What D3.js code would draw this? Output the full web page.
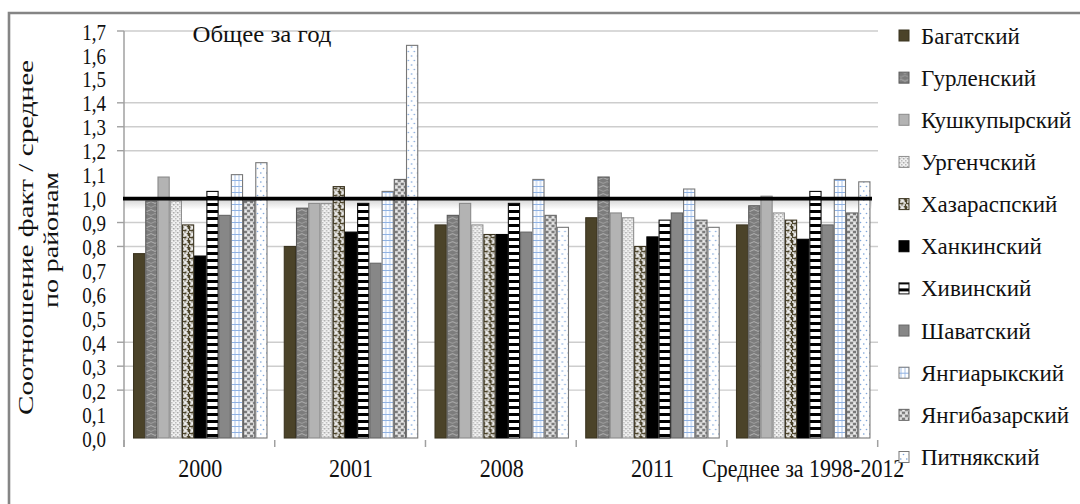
<!DOCTYPE html>
<html>
<head>
<meta charset="utf-8">
<script src="https://cdn.jsdelivr.net/npm/d3@7"></script>
<style>
  html, body { margin: 0; padding: 0; background: #fff; }
  svg { display: block; }
  svg text { font-family: "Liberation Serif", "Times New Roman", serif !important; fill: #111; }
</style>
</head>
<body>
<svg id="chart" width="1080" height="504"></svg>
<script>
// Categories (x groups) and districts (series)
const categories = ["2000", "2001", "2008", "2011", "Среднее за 1998-2012"];
const districts = [
  "Багатский", "Гурленский", "Кушкупырский", "Ургенчский", "Хазараспский",
  "Ханкинский", "Хивинский", "Шаватский", "Янгиарыкский", "Янгибазарский", "Питнякский"
];

// Ratio actual / district average, one array per category, in district order
const values2000 = [0.77, 0.99, 1.09, 0.99, 0.89, 0.76, 1.03, 0.93, 1.10, 0.99, 1.15];
const values2001 = [0.80, 0.96, 0.98, 0.98, 1.05, 0.86, 0.98, 0.73, 1.03, 1.08, 1.64];
const values2008 = [0.89, 0.93, 0.98, 0.89, 0.85, 0.85, 0.98, 0.86, 1.08, 0.93, 0.88];
const values2011 = [0.92, 1.09, 0.94, 0.92, 0.80, 0.84, 0.91, 0.94, 1.04, 0.91, 0.88];
const valuesAvg  = [0.89, 0.97, 1.01, 0.94, 0.91, 0.83, 1.03, 0.89, 1.08, 0.94, 1.07];

// Axis ticks
const yTickValues = [0, 0.1, 0.2, 0.3, 0.4, 0.5, 0.6, 0.7, 0.8, 0.9, 1.0, 1.1, 1.2, 1.3, 1.4, 1.5, 1.6, 1.7];
const gridValues = [0.2, 0.3, 0.4, 0.8, 0.9, 1.2, 1.3, 1.4, 1.7];
const referenceLevel = 1.0;

const chartTitle = "Общее за год";
const yTitleLines = ["Соотношение  факт / среднее", "по районам"];

const seriesByCategory = [values2000, values2001, values2008, values2011, valuesAvg];
const table = categories.map((c, ci) => ({
  category: c,
  items: districts.map((d, di) => ({ district: d, index: di, value: seriesByCategory[ci][di] }))
}));

const SERIF = '"Liberation Serif", "Times New Roman", serif';
const svg = d3.select("#chart");
const defs = svg.append("defs");

// ---- fill patterns for each district ----
function pat(id, w, h, bg) {
  const p = defs.append("pattern").attr("id", id)
    .attr("patternUnits", "userSpaceOnUse").attr("width", w).attr("height", h);
  p.append("rect").attr("width", w).attr("height", h).attr("fill", bg);
  return p;
}
// 0 Багатский: solid dark olive
pat("p0", 4, 4, "#4b4329");
// 1 Гурленский: grey with light waves
{
  const p = pat("p1", 8, 8, "#7c7c7c");
  p.append("path").attr("d", "M0,2.5 q2,-1.8 4,0 t4,0").attr("fill", "none").attr("stroke", "#b8b8b8").attr("stroke-width", 0.9);
  p.append("path").attr("d", "M-4,6.5 q2,-1.8 4,0 t4,0 t4,0").attr("fill", "none").attr("stroke", "#a8a8a8").attr("stroke-width", 0.8);
}
// 2 Кушкупырский: light grey
pat("p2", 4, 4, "#b3b3b3");
// 3 Ургенчский: fine light speckle
{
  const p = pat("p3", 4, 4, "#f2f2f2");
  p.append("rect").attr("x", 0).attr("y", 0).attr("width", 1.5).attr("height", 1.5).attr("fill", "#a9a9a9");
  p.append("rect").attr("x", 2).attr("y", 2).attr("width", 1.5).attr("height", 1.5).attr("fill", "#b9b9b9");
  p.append("rect").attr("x", 2.5).attr("y", 0).attr("width", 1).attr("height", 1).attr("fill", "#cfcfcf");
}
// 4 Хазараспский: olive with white squiggles
{
  const p = pat("p4", 7, 7, "#4b4329");
  p.append("path").attr("d", "M0,1 h2 v2 h2 v-2 h2 M1,5 h2 v-1 h2 v2 h2")
    .attr("fill", "none").attr("stroke", "#f4f4f4").attr("stroke-width", 1.3);
}
// 5 Ханкинский: black
pat("p5", 4, 4, "#000");
// 6 Хивинский: horizontal black/white stripes
{
  const p = pat("p6", 6, 7, "#fff");
  p.append("rect").attr("x", 0).attr("y", 0).attr("width", 6).attr("height", 3).attr("fill", "#000");
}
// 7 Шаватский: mid grey
pat("p7", 4, 4, "#878787");
// 8 Янгиарыкский: white with light blue grid
{
  const p = pat("p8", 4, 6, "#fff");
  p.append("rect").attr("x", 1.5).attr("y", 0).attr("width", 1).attr("height", 6).attr("fill", "#a9c4ea");
  p.append("rect").attr("x", 0).attr("y", 0).attr("width", 4).attr("height", 1).attr("fill", "#8fb2e4");
}
// 9 Янгибазарский: grey / white blotches
{
  const p = pat("p9", 6, 6, "#c9c9c9");
  p.append("rect").attr("x", 0).attr("y", 0).attr("width", 3).attr("height", 2).attr("fill", "#808080");
  p.append("rect").attr("x", 3).attr("y", 3).attr("width", 3).attr("height", 2).attr("fill", "#7a7a7a");
  p.append("rect").attr("x", 3.5).attr("y", 0.5).attr("width", 2).attr("height", 1.5).attr("fill", "#f5f5f5");
  p.append("rect").attr("x", 0.5).attr("y", 3.5).attr("width", 2).attr("height", 1.5).attr("fill", "#f0f0f0");
}
// 10 Питнякский: white with sparse blue dots
{
  const p = pat("p10", 6, 9, "#fff");
  p.append("circle").attr("cx", 1.8).attr("cy", 2).attr("r", 0.8).attr("fill", "#6f9bd4");
  p.append("circle").attr("cx", 4.5).attr("cy", 6.5).attr("r", 0.8).attr("fill", "#7fa6da");
}
const strokes = ["#3b3420", "#5a5a5a", "#8a8a8a", "#8f8f8f", "#3b3420", "#000", "#111", "#666", "#7a7a7a", "#666", "#777"];

// shadow under the reference line
const grad = defs.append("linearGradient").attr("id", "refShadow").attr("x1", 0).attr("y1", 0).attr("x2", 0).attr("y2", 1);
grad.append("stop").attr("offset", "0%").attr("stop-color", "#000").attr("stop-opacity", 0.16);
grad.append("stop").attr("offset", "100%").attr("stop-color", "#000").attr("stop-opacity", 0);

// ---- scales ----
const x0 = d3.scaleBand().domain(categories).range([124, 879.5]).paddingInner(0.108).paddingOuter(0.06);
const x1 = d3.scaleBand().domain(districts).range([0, x0.bandwidth()]);
const y = d3.scaleLinear().domain([0, 1.7]).range([438, 31]);
const fmt = v => d3.format(".1f")(v).replace(".", ",");

// ---- frame ----
svg.append("path").attr("d", "M9,504 V13 H1080").attr("fill", "none")
  .attr("stroke", "#858585").attr("stroke-width", 2.6);

// ---- gridlines ----
svg.append("g").selectAll("line").data(gridValues).join("line")
  .attr("x1", 124).attr("x2", 878).attr("y1", d => y(d)).attr("y2", d => y(d))
  .attr("stroke", "#cdcdcd").attr("stroke-width", 1.4);

// shadow band below reference
svg.append("rect").attr("x", 124).attr("width", 748).attr("y", y(referenceLevel) + 1).attr("height", 10)
  .attr("fill", "url(#refShadow)");

// ---- bars ----
const groups = svg.append("g").selectAll("g").data(table).join("g")
  .attr("transform", d => `translate(${x0(d.category)},0)`);
groups.selectAll("rect").data(d => d.items).join("rect")
  .attr("x", d => x1(d.district) + 0.5)
  .attr("y", d => y(d.value))
  .attr("width", x1.bandwidth() - 1)
  .attr("height", d => y(0) - y(d.value))
  .attr("fill", d => `url(#p${d.index})`)
  .attr("stroke", d => strokes[d.index])
  .attr("stroke-width", 1.1);

// ---- y axis ----
svg.append("line").attr("x1", 124).attr("x2", 124).attr("y1", y(1.7)).attr("y2", 447)
  .attr("stroke", "#a0a0a0").attr("stroke-width", 1.5);
svg.append("g").selectAll("line").data(gridValues).join("line")
  .attr("x1", 117).attr("x2", 124).attr("y1", d => y(d)).attr("y2", d => y(d))
  .attr("stroke", "#a0a0a0").attr("stroke-width", 1.4);

const yAxis = svg.append("g").attr("transform", "translate(124,0)")
  .call(d3.axisLeft(y).tickValues(yTickValues).tickSize(0).tickPadding(18).tickFormat(fmt));
yAxis.attr("font-family", null).attr("font-size", null);
yAxis.select(".domain").remove();
yAxis.selectAll("text")
  .style("font-family", SERIF)
  .style("font-size", "19px").attr("fill", "#1a1a1a")
  .attr("dy", "0.34em")
  .attr("transform", "scale(1,1.25)");

// ---- x axis ----
const step = x0.step();
svg.append("g").selectAll("line").data(d3.range(categories.length + 1)).join("line")
  .attr("x1", i => 124 + i * step).attr("x2", i => 124 + i * step)
  .attr("y1", 440).attr("y2", 447)
  .attr("stroke", "#a0a0a0").attr("stroke-width", 1.5);

const xAxis = svg.append("g").attr("transform", `translate(0,${y(0)})`)
  .call(d3.axisBottom(x0).tickSize(0).tickPadding(18));
xAxis.attr("font-family", null).attr("font-size", null);
xAxis.select(".domain").remove();
xAxis.selectAll("text")
  .style("font-family", SERIF)
  .style("font-size", "22px").attr("fill", "#1a1a1a")
  .attr("transform", "scale(1,1.15)");

// ---- reference line at 1.0 ----
svg.append("line").attr("x1", 123).attr("x2", 872)
  .attr("y1", y(referenceLevel)).attr("y2", y(referenceLevel))
  .attr("stroke", "#000").attr("stroke-width", 3.6);

// ---- title ----
svg.append("text").attr("x", 262).attr("y", 42).attr("text-anchor", "middle")
  .style("font-family", SERIF).style("font-size", "23px")
  .attr("textLength", 139).attr("lengthAdjust", "spacingAndGlyphs")
  .text(chartTitle);

// ---- y title (two rotated lines) ----
const yTitleSpecs = [{ x: 33, cy: 237.5, len: 355 }, { x: 58, cy: 240, len: 136 }];
yTitleLines.forEach((t, i) => {
  const s = yTitleSpecs[i];
  svg.append("text")
    .attr("transform", `translate(${s.x},${s.cy}) rotate(-90)`)
    .attr("text-anchor", "middle")
    .style("font-family", SERIF).style("font-size", "21px")
    .attr("textLength", s.len).attr("lengthAdjust", "spacingAndGlyphs")
    .text(t);
});

// ---- legend ----
const legend = svg.append("g").selectAll("g").data(districts).join("g")
  .attr("transform", (d, i) => `translate(899,${35.5 + i * 42.15})`);
legend.append("rect").attr("x", 0).attr("y", -5.5).attr("width", 10).attr("height", 11)
  .attr("fill", (d, i) => `url(#p${i})`).attr("stroke", (d, i) => strokes[i]).attr("stroke-width", 1);
legend.append("text").attr("x", 22).attr("dy", "0.35em")
  .style("font-family", SERIF).style("font-size", "23px")
  .text(d => d);
</script>
</body>
</html>
